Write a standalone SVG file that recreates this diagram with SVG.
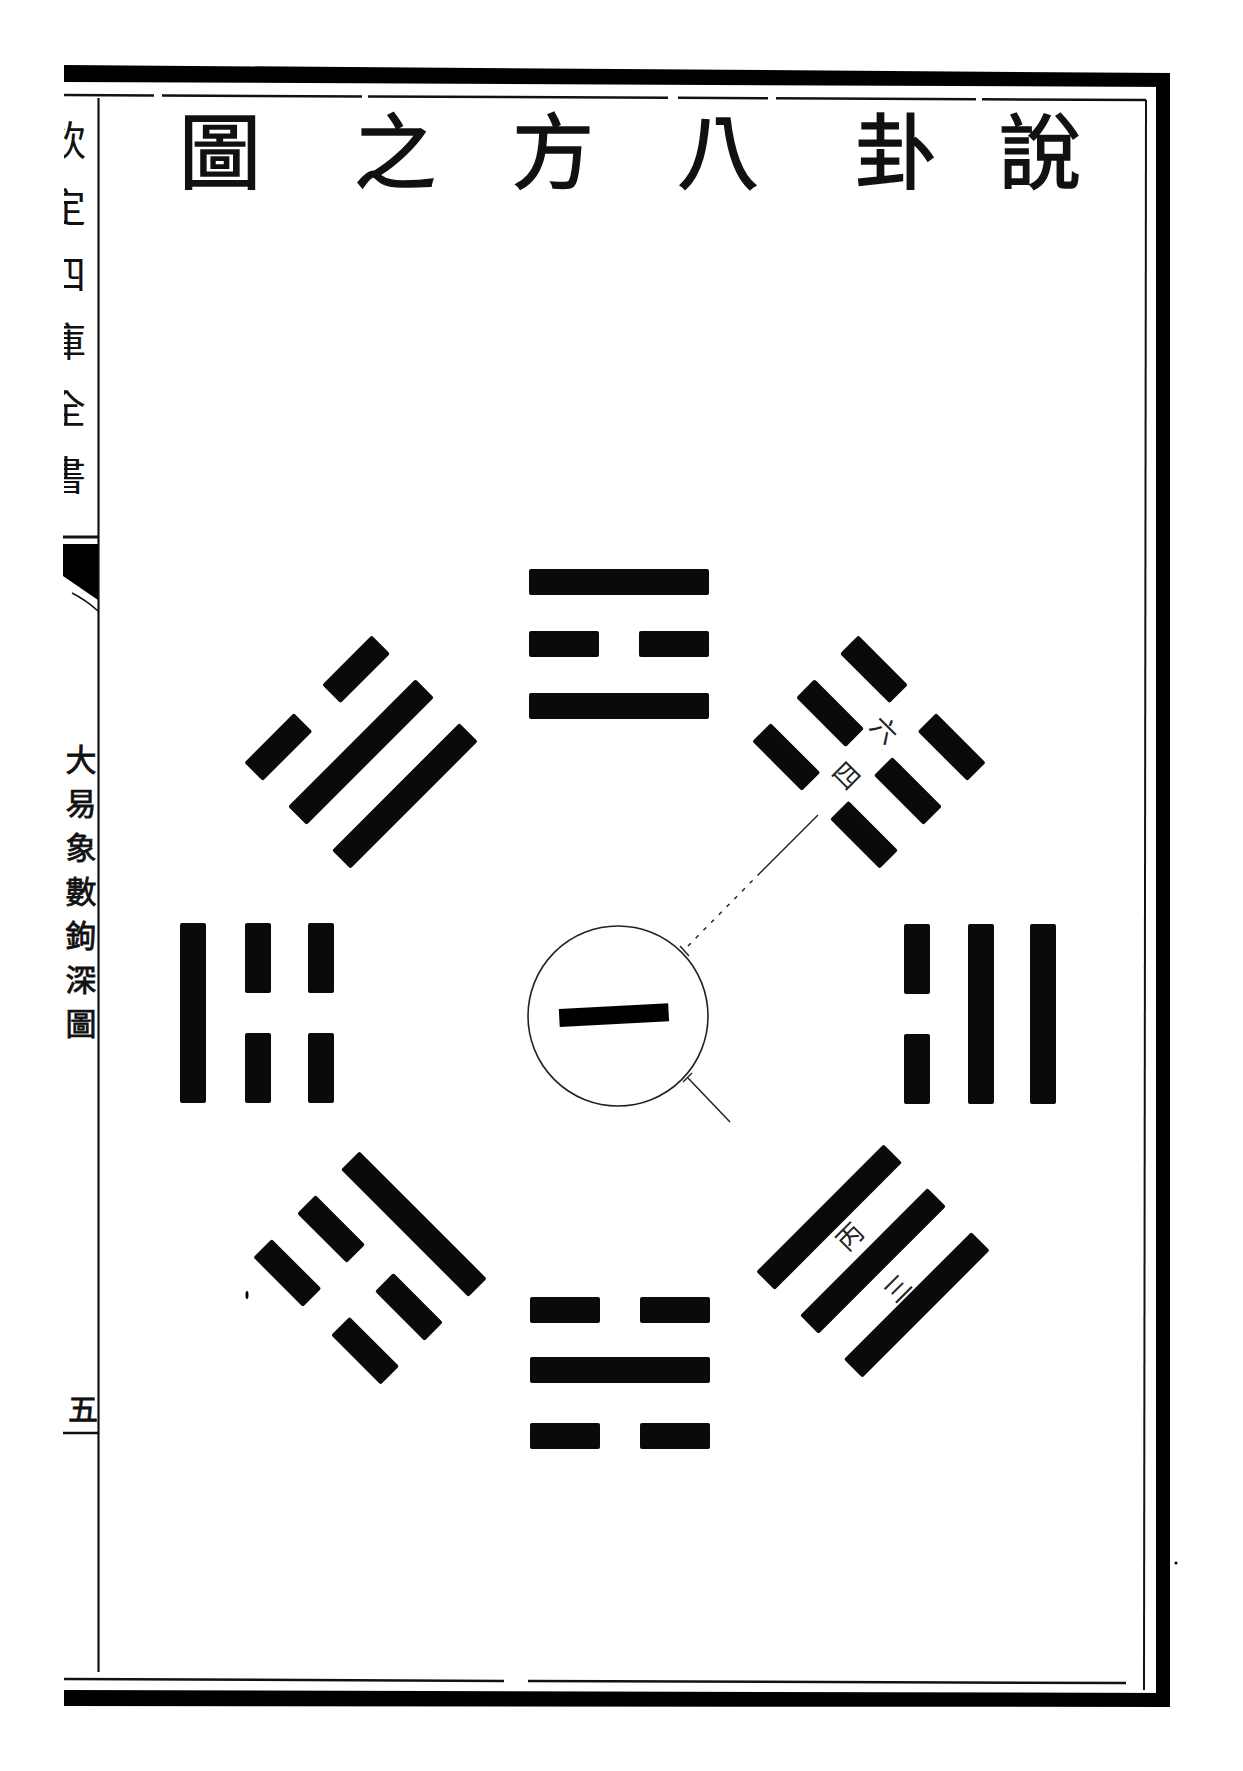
<svg xmlns="http://www.w3.org/2000/svg" width="1243" height="1771" viewBox="0 0 1243 1771">
<style>
.bar{fill:#0a0a0a}
.title{font-family:"Noto Sans CJK TC","Noto Sans CJK SC",sans-serif;font-size:82px;fill:#111;stroke:#111;stroke-width:1.5;text-anchor:middle}
.margin{font-family:"Noto Sans CJK TC","Noto Sans CJK SC",sans-serif;font-size:31px;fill:#111;stroke:#111;stroke-width:0.8;text-anchor:middle}
.spine{font-family:"Noto Sans CJK TC","Noto Sans CJK SC",sans-serif;font-size:40px;fill:#111;text-anchor:middle}
.note{font-family:"Noto Sans CJK TC","Noto Sans CJK SC",sans-serif;font-size:26px;fill:#222;text-anchor:middle}
.conn{stroke:#222;stroke-width:1.5;fill:none}
.rule{stroke:#111;fill:none}
</style>
<defs>
<rect id="s" class="bar" x="-90" y="-13" width="180" height="26" rx="2"/>
<g id="b" class="bar"><rect x="-90" y="-13" width="70" height="26" rx="2"/><rect x="20" y="-13" width="70" height="26" rx="2"/></g>
<clipPath id="cl"><rect x="64" y="90" width="33" height="1600"/></clipPath>
</defs>
<rect width="1243" height="1771" fill="#fff"/>

<g id="frame">
<polygon points="64,65 1170,73 1170,87 64,82" fill="#000"/>
<line class="rule" x1="64" y1="95" x2="1146" y2="100" stroke-width="2.5" stroke-dasharray="90 8 200 6 300 10"/>
<rect x="1156" y="73" width="14" height="1634" fill="#000"/>
<line class="rule" x1="1146" y1="100" x2="1144" y2="1690" stroke-width="2"/>
<line class="rule" x1="98.5" y1="98" x2="98.5" y2="1672" stroke-width="2.2"/>
<line class="rule" x1="64" y1="1679" x2="504" y2="1681" stroke-width="2.5"/>
<line class="rule" x1="528" y1="1681" x2="1126" y2="1683" stroke-width="2.5"/>
<polygon points="64,1690 1170,1693 1170,1707 64,1706" fill="#000"/>
<line class="rule" x1="63" y1="537" x2="98" y2="537" stroke-width="3"/>
<polygon points="63,544 98,544 98,600 63,576" fill="#000"/>
<path class="rule" d="M72 593 Q86 600 98 611" stroke-width="1.5"/>
<line class="rule" x1="63" y1="1433" x2="98" y2="1433" stroke-width="2.5"/>
<ellipse cx="247" cy="1295" rx="1.5" ry="4" fill="#000"/>
<circle cx="1176" cy="1563" r="1.5" fill="#000"/>
</g>

<g id="title">
<text class="title" x="1040" y="182">說</text>
<text class="title" x="896" y="182">卦</text>
<text class="title" x="718" y="182">八</text>
<text class="title" x="553" y="182">方</text>
<text class="title" x="395" y="182">之</text>
<text class="title" x="220" y="182">圖</text>
</g>

<g id="margin" clip-path="url(#cl)">
<text class="spine" x="66" y="155">欽</text>
<text class="spine" x="66" y="222">定</text>
<text class="spine" x="66" y="289">四</text>
<text class="spine" x="66" y="356">庫</text>
<text class="spine" x="66" y="423">全</text>
<text class="spine" x="66" y="490">書</text>
<text class="margin" x="81" y="771">大</text>
<text class="margin" x="81" y="815">易</text>
<text class="margin" x="81" y="859">象</text>
<text class="margin" x="81" y="903">數</text>
<text class="margin" x="81" y="947">鉤</text>
<text class="margin" x="81" y="991">深</text>
<text class="margin" x="81" y="1035">圖</text>
<text class="margin" x="83" y="1420" style="font-size:30px">五</text>
</g>

<g id="connectors">
<line class="conn" x1="688" y1="946" x2="760" y2="873" stroke-dasharray="4 7"/>
<line class="conn" x1="760" y1="873" x2="818" y2="815"/>
<line class="conn" x1="680" y1="946" x2="689" y2="956"/>
<line class="conn" x1="688" y1="1078" x2="730" y2="1122"/>
<line class="conn" x1="683" y1="1082" x2="692" y2="1073"/>
</g>

<g id="center">
<circle cx="618" cy="1016" r="90" fill="none" stroke="#222" stroke-width="1.6"/>
<text x="614" y="1060" transform="rotate(-3 614 1016)" style="font-family:'Noto Sans CJK TC','Noto Sans CJK SC',sans-serif;font-size:115px;font-weight:bold;text-anchor:middle" fill="#000" stroke="#000" stroke-width="3">一</text>
</g>

<g id="li" transform="translate(619 1006)">
<use href="#s" y="-424"/><use href="#b" y="-362"/><use href="#s" y="-300"/>
</g>
<g id="kun" transform="translate(613 1008) rotate(45)">
<use href="#b" y="-424"/><use href="#b" y="-362"/><use href="#b" y="-300"/>
</g>
<g id="dui" transform="translate(619 1014) rotate(90)">
<use href="#s" y="-424"/><use href="#s" y="-362"/><use href="#b" y="-298"/>
</g>
<g id="qian" transform="translate(617 1005) rotate(135)">
<use href="#s" y="-424"/><use href="#s" y="-362"/><use href="#s" y="-300"/>
</g>
<g id="kan" transform="translate(620 1008) rotate(180)">
<use href="#b" y="-428"/><use href="#s" y="-362"/><use href="#b" y="-302"/>
</g>
<g id="gen" transform="translate(626 1012) rotate(-135)">
<use href="#b" y="-424"/><use href="#b" y="-362"/><use href="#s" y="-300"/>
</g>
<g id="zhen" transform="translate(619 1013) rotate(-90)">
<use href="#s" y="-426"/><use href="#b" y="-361"/><use href="#b" y="-298"/>
</g>
<g id="xun" transform="translate(617 1008) rotate(-45)">
<use href="#b" y="-424"/><use href="#s" y="-362"/><use href="#s" y="-300"/>
</g>

<g id="notes">
<text class="note" transform="translate(884 730) rotate(45)" y="9">六</text>
<text class="note" transform="translate(846 776) rotate(45)" y="9">四</text>
<text class="note" transform="translate(850 1237) rotate(-45)" y="9">丙</text>
<text class="note" transform="translate(898 1289) rotate(-45)" y="9">三</text>
</g>
</svg>
